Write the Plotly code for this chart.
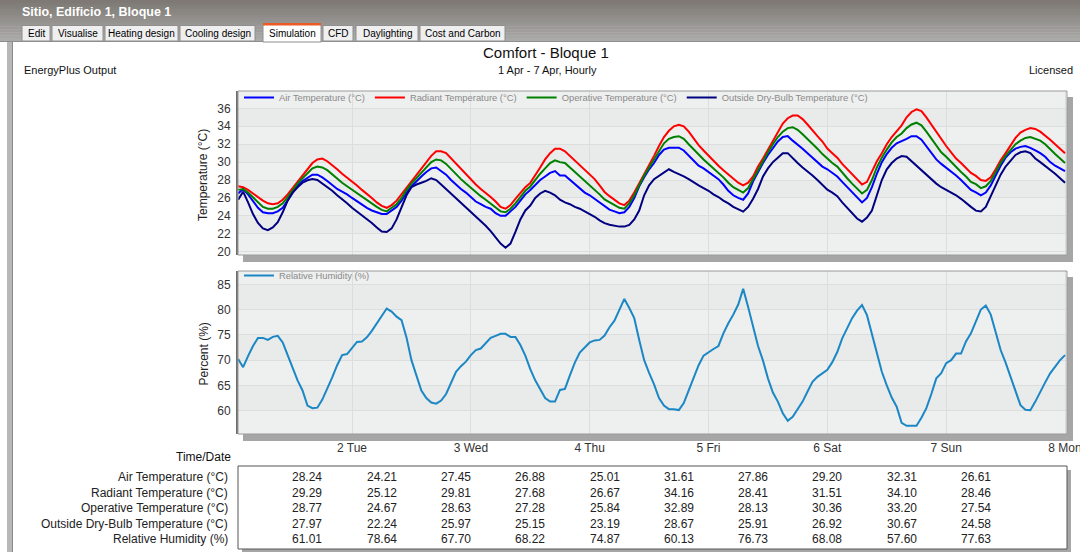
import pandas as pd
import plotly.graph_objects as go

# ============================ DATA ============================
START = pd.Timestamp("2024-04-01 00:00")          # 1 Apr ... 8 Apr (hourly)
HOURS = list(range(1, 169))

series_names = ["Air Temperature (°C)", "Radiant Temperature (°C)",
                "Operative Temperature (°C)", "Outside Dry-Bulb Temperature (°C)"]
rh_name = "Relative Humidity (%)"

air_temp = [
    26.5, 27.0, 26.4, 25.6, 24.9, 24.4, 24.3, 24.3, 24.5, 24.9, 25.7, 26.6,
    27.4, 27.9, 28.24, 28.6, 28.6, 28.3, 27.9, 27.4, 27.0, 26.7, 26.4, 26.0,
    25.6, 25.3, 24.9, 24.6, 24.4, 24.21, 24.2, 24.6, 25.0, 25.7, 26.6, 27.3,
    27.9, 28.4, 28.9, 29.3, 29.4, 29.0, 28.6, 28.0, 27.45, 27.0, 26.6, 26.1,
    25.6, 25.3, 25.0, 24.8, 24.3, 24.0, 24.0, 24.5, 25.0, 25.7, 26.4, 26.88,
    27.5, 28.0, 28.4, 28.8, 29.0, 28.5, 28.5, 28.0, 27.5, 27.0, 26.6, 26.3,
    25.9, 25.5, 25.01, 24.7, 24.5, 24.3, 24.4, 25.0, 26.0, 27.3, 28.3, 29.2,
    29.9, 30.8, 31.4, 31.6, 31.6, 31.61, 31.3, 30.7, 30.2, 29.6, 29.3, 28.9,
    28.5, 28.1, 27.5, 26.8, 26.3, 26.0, 25.8, 26.5, 27.86, 28.9, 29.9, 30.8,
    31.6, 32.3, 32.8, 32.9, 32.4, 32.0, 31.5, 31.0, 30.5, 29.9, 29.5, 29.20,
    28.8, 28.4, 27.8, 27.2, 26.7, 26.0, 25.5, 26.0, 27.2, 28.7, 30.0, 30.9,
    31.6, 32.1, 32.31, 32.6, 32.9, 32.9, 32.5, 31.8, 31.0, 30.3, 29.8, 29.4,
    28.9, 28.5, 28.0, 27.4, 26.9, 26.61, 26.3, 26.6, 27.4, 28.5, 29.6, 30.5,
    31.1, 31.5, 31.7, 31.8, 31.6, 31.3, 31.0, 30.6, 30.0, 29.6, 29.3, 29.0,
]
radiant_temp = [
    27.3, 27.2, 26.9, 26.5, 26.1, 25.7, 25.4, 25.3, 25.4, 25.8, 26.4, 27.1,
    27.8, 28.5, 29.29, 29.9, 30.3, 30.4, 30.1, 29.7, 29.2, 28.7, 28.3, 27.9,
    27.4, 26.9, 26.5, 26.0, 25.5, 25.12, 24.9, 25.2, 25.7, 26.4, 27.2, 27.9,
    28.6, 29.3, 30.0, 30.7, 31.2, 31.2, 31.0, 30.4, 29.81, 29.2, 28.6, 28.0,
    27.5, 27.0, 26.6, 26.1, 25.6, 25.0, 24.8, 25.2, 25.9, 26.6, 27.2, 27.68,
    28.5, 29.4, 30.3, 31.0, 31.5, 31.5, 31.2, 30.7, 30.2, 29.7, 29.2, 28.7,
    28.1, 27.4, 26.67, 26.2, 25.8, 25.4, 25.2, 25.7, 26.6, 27.6, 28.6, 29.6,
    30.7, 31.8, 32.8, 33.5, 34.0, 34.16, 34.0, 33.4, 32.6, 31.9, 31.3, 30.7,
    30.1, 29.6, 29.1, 28.6, 28.1, 27.7, 27.4, 27.7, 28.41, 29.5, 30.4, 31.4,
    32.4, 33.4, 34.3, 34.9, 35.2, 35.2, 34.8, 34.2, 33.5, 32.9, 32.3, 31.51,
    31.0, 30.5, 29.8, 29.2, 28.6, 28.0, 27.5, 27.8, 28.9, 30.1, 31.0, 32.0,
    32.8, 33.5, 34.10, 35.0, 35.6, 35.9, 35.7, 35.0, 34.2, 33.3, 32.5, 31.8,
    31.1, 30.4, 29.9, 29.3, 28.8, 28.46, 28.0, 27.9, 28.3, 29.2, 30.2, 31.0,
    31.8, 32.7, 33.3, 33.6, 33.8, 33.7, 33.4, 33.0, 32.5, 32.0, 31.5, 31.0,
]
operative_temp = [
    26.9, 27.0, 26.6, 26.1, 25.5, 25.0, 24.8, 24.8, 25.0, 25.4, 26.1, 26.9,
    27.6, 28.2, 28.77, 29.3, 29.5, 29.4, 29.1, 28.6, 28.1, 27.7, 27.3, 26.9,
    26.5, 26.1, 25.7, 25.3, 25.0, 24.67, 24.5, 24.9, 25.3, 26.0, 26.9, 27.6,
    28.2, 28.8, 29.4, 30.0, 30.3, 30.2, 29.8, 29.2, 28.63, 28.1, 27.6, 27.1,
    26.6, 26.2, 25.8, 25.4, 24.9, 24.5, 24.4, 24.8, 25.4, 26.1, 26.8, 27.28,
    28.0, 28.7, 29.3, 29.9, 30.2, 30.0, 29.9, 29.4, 28.9, 28.4, 27.9, 27.5,
    27.0, 26.4, 25.84, 25.5, 25.2, 24.9, 24.8, 25.4, 26.3, 27.5, 28.5, 29.4,
    30.3, 31.3, 32.1, 32.6, 32.8, 32.89, 32.6, 32.0, 31.4, 30.8, 30.3, 29.8,
    29.3, 28.9, 28.3, 27.7, 27.2, 26.9, 26.6, 27.1, 28.13, 29.2, 30.2, 31.1,
    32.0, 32.8, 33.4, 33.8, 33.9, 33.6, 33.1, 32.6, 32.0, 31.5, 30.9, 30.36,
    29.9, 29.5, 28.8, 28.2, 27.6, 27.0, 26.5, 26.9, 28.0, 29.4, 30.5, 31.4,
    32.2, 32.8, 33.20, 33.8, 34.2, 34.4, 34.1, 33.4, 32.6, 31.8, 31.1, 30.6,
    30.0, 29.4, 28.9, 28.4, 27.8, 27.54, 27.1, 27.3, 27.9, 28.9, 29.9, 30.7,
    31.4, 32.0, 32.4, 32.7, 32.8, 32.6, 32.4, 32.0, 31.4, 30.9, 30.4, 29.9,
]
outside_temp = [
    25.8, 26.7, 25.5, 24.2, 23.2, 22.6, 22.4, 22.7, 23.3, 24.4, 25.7, 26.6,
    27.2, 27.7, 27.97, 28.1, 28.0, 27.6, 27.3, 26.8, 26.3, 25.9, 25.4, 24.9,
    24.5, 24.0, 23.6, 23.2, 22.7, 22.24, 22.2, 22.6, 23.6, 25.0, 26.3, 27.2,
    27.5, 27.7, 27.9, 28.2, 28.0, 27.5, 27.0, 26.5, 25.97, 25.5, 25.0, 24.5,
    24.0, 23.5, 22.9, 22.3, 21.6, 20.9, 20.45, 20.9, 22.2, 23.6, 24.6, 25.15,
    26.0, 26.5, 26.8, 26.6, 26.3, 25.8, 25.5, 25.3, 25.0, 24.8, 24.5, 24.2,
    23.9, 23.5, 23.19, 23.0, 22.9, 22.8, 22.8, 23.0, 23.6, 24.6, 26.3, 27.4,
    28.1, 28.5, 28.9, 29.2, 28.9, 28.67, 28.4, 28.1, 27.7, 27.4, 27.1, 26.8,
    26.4, 26.1, 25.7, 25.4, 25.0, 24.7, 24.47, 25.0, 25.91, 27.0, 28.4, 29.3,
    30.0, 30.5, 31.0, 31.0, 30.4, 29.9, 29.4, 29.0, 28.5, 28.0, 27.4, 26.92,
    26.6, 26.2, 25.5, 24.9, 24.3, 23.7, 23.35, 23.8, 24.6, 26.4, 28.0, 29.2,
    29.9, 30.4, 30.67, 30.6, 30.1, 29.5, 29.0, 28.6, 28.1, 27.6, 27.2, 26.9,
    26.6, 26.3, 25.9, 25.5, 25.0, 24.58, 24.5, 25.0, 26.2, 27.5, 28.6, 29.5,
    30.2, 30.8, 31.1, 31.2, 31.0, 30.4, 30.0, 29.6, 29.1, 28.7, 28.2, 27.7,
]
rel_humidity = [
    70.2, 68.6, 70.8, 72.8, 74.4, 74.4, 74.0, 74.6, 74.8, 73.5, 71.0, 68.5,
    66.0, 64.0, 61.01, 60.5, 60.6, 62.2, 64.3, 66.6, 69.0, 71.0, 71.2, 72.3,
    73.6, 73.7, 74.5, 75.8, 77.3, 78.64, 80.2, 79.6, 78.6, 77.9, 74.5, 70.0,
    66.8, 64.0, 62.5, 61.6, 61.4, 62.0, 63.3, 65.5, 67.70, 68.8, 69.7, 71.0,
    72.0, 72.3, 73.3, 74.4, 74.8, 75.2, 75.2, 74.6, 74.6, 73.0, 70.9, 68.22,
    66.0, 64.3, 62.5, 61.8, 61.8, 64.1, 64.3, 67.0, 69.5, 71.5, 72.5, 73.5,
    73.9, 74.0, 74.87, 76.5, 77.8, 80.0, 82.1, 80.3, 78.3, 74.0, 70.0, 67.5,
    65.2, 62.5, 61.0, 60.3, 60.3, 60.13, 61.5, 64.0, 66.6, 69.0, 70.9, 71.6,
    72.2, 72.8, 75.3, 77.3, 79.0, 81.0, 84.1, 80.5, 76.73, 72.8, 69.9, 66.4,
    63.6, 61.8, 59.5, 58.0, 58.8, 60.4, 61.8, 63.8, 65.7, 66.7, 67.4, 68.08,
    69.6, 71.6, 74.3, 76.2, 78.3, 79.8, 80.9, 78.9, 75.0, 71.2, 67.7, 65.0,
    62.6, 60.8, 57.60, 57.0, 57.0, 57.0, 58.6, 60.5, 63.3, 66.4, 67.4, 69.4,
    70.0, 71.3, 71.3, 73.7, 75.3, 77.63, 80.0, 80.8, 79.0, 75.5, 72.0, 69.5,
    66.7, 63.8, 61.1, 60.2, 60.1, 61.8, 63.8, 65.6, 67.4, 68.7, 70.0, 71.0,
]

# summary table (values every 15 hours)
table_hours = [15, 30, 45, 60, 75, 90, 105, 120, 135, 150]
table_air = [28.24, 24.21, 27.45, 26.88, 25.01, 31.61, 27.86, 29.20, 32.31, 26.61]
table_radiant = [29.29, 25.12, 29.81, 27.68, 26.67, 34.16, 28.41, 31.51, 34.10, 28.46]
table_operative = [28.77, 24.67, 28.63, 27.28, 25.84, 32.89, 28.13, 30.36, 33.20, 27.54]
table_outside = [27.97, 22.24, 25.97, 25.15, 23.19, 28.67, 25.91, 26.92, 30.67, 24.58]
table_rh = [61.01, 78.64, 67.70, 68.22, 74.87, 60.13, 76.73, 68.08, 57.60, 77.63]

temp_ticks = list(range(20, 37, 2))
rh_ticks = list(range(60, 86, 5))

tab_labels = ["Edit", "Visualise", "Heating design", "Cooling design",
              "Simulation", "CFD", "Daylighting", "Cost and Carbon"]
selected_tab = "Simulation"

# ============================ STYLE / GEOMETRY ============================
W, H = 1080, 552
FONT = "Liberation Sans, Arial, sans-serif"
PX_L, PX_R = 238, 1067
TOP_T, TOP_B = 91, 255
BOT_T, BOT_B = 271, 434
TEMP_RANGE = [19.63, 37.94]
RH_RANGE = [55.39, 87.63]
COLORS = ["#0000FF", "#FF0000", "#008000", "#000080"]
RH_COLOR = "#1B87C5"
PLOT_BG = "#EEEFEF"
BAND_BG = "#E9EAEA"
GRID = "#DCDDDD"
TAB_X = [(22, 50), (52, 103), (105, 178), (180, 255), (263, 321),
         (323, 353), (356, 418), (420, 505)]
TABLE_T, TABLE_B = 466, 549
TABLE_ROW_Y = [477, 492.5, 508, 523.5, 539]


def fx(px):
    return px / W


def fy(py):
    return 1 - py / H


def hours_to_time(h):
    return START + pd.Timedelta(hours=h)


rh_times = [hours_to_time(h) for h in HOURS[:len(rel_humidity)]]
x_range = [hours_to_time(HOURS[0] - 0.03), hours_to_time(HOURS[-1] + 0.4)]

fig = go.Figure()
for name, vals, col in zip(series_names,
                           [air_temp, radiant_temp, operative_temp, outside_temp],
                           COLORS):
    fig.add_trace(go.Scatter(
        x=[hours_to_time(h) for h in HOURS[:len(vals)]], y=vals, name=name,
        mode="lines", line=dict(color=col, width=2),
        xaxis="x", yaxis="y", legend="legend", hoverinfo="skip"))
fig.add_trace(go.Scatter(
    x=rh_times, y=rel_humidity, name=rh_name, mode="lines",
    line=dict(color=RH_COLOR, width=2),
    xaxis="x2", yaxis="y2", legend="legend2", hoverinfo="skip"))

shapes = []
annotations = []


def rect(x0, y0, x1, y1, fill, line_color=None, lw=0, layer="below"):
    shapes.append(dict(type="rect", xref="paper", yref="paper",
                       x0=fx(x0), x1=fx(x1), y0=fy(y1), y1=fy(y0),
                       fillcolor=fill, layer=layer,
                       line=dict(color=line_color or fill, width=lw)))


def text(t, x, y, size=12, color="#222222", xanchor="center", bold=False,
         xref="paper", angle=0, family=FONT):
    annotations.append(dict(
        text=t, x=fx(x) if xref == "paper" else x, y=fy(y), xref=xref, yref="paper",
        xanchor=xanchor, yanchor="middle", showarrow=False, textangle=angle,
        font=dict(size=size, color=color, family=family,
                  weight="bold" if bold else "normal")))


# ---- window chrome: title bar gradient + tabs
n_stripes = 14
c_top, c_bot = (126, 121, 116), (170, 170, 168)
for i in range(n_stripes):
    f = i / (n_stripes - 1)
    c = tuple(int(a + (b - a) * f) for a, b in zip(c_top, c_bot))
    rect(0, 41 * i / n_stripes, W, 41 * (i + 1) / n_stripes + 0.5,
         "rgb(%d,%d,%d)" % c)
rect(0, 41, W, 42, "#8E8E8E")
rect(7, 42, 13, H, "#B8B8B8")
rect(12, 42, 13, H, "#8A8A8A")
text("Sitio, Edificio 1, Bloque 1", 20, 12, size=12.5, color="#FFFFFF",
     xanchor="left", bold=True)
for lab, (x0, x1) in zip(tab_labels, TAB_X):
    if lab == selected_tab:
        rect(x0, 24, x1, 42, "#FFFFFF", "#8E8E8E", 1, layer="above")
        rect(x0, 23, x1, 25.5, "#EE5A24", layer="above")
    else:
        rect(x0, 25.5, x1, 41, "#EFEFEF", "#8E8E8E", 1, layer="above")
    text(lab, (x0 + x1) / 2, 33.5, size=10, color="#000000")

# ---- headings
text("Comfort - Bloque 1", 546, 53, size=15, color="#111111")
text("1 Apr - 7 Apr, Hourly", 547, 70, size=11, color="#111111")
text("EnergyPlus Output", 22, 70, size=11, color="#111111", xanchor="left")
text("Licensed", 1075, 70, size=11, color="#111111", xanchor="right")

# ---- plot panels: shadow, background, bands, frame
for (t, b), xd, yd, yr, ticks in [((TOP_T, TOP_B), "x", "y", "y", temp_ticks),
                                  ((BOT_T, BOT_B), "x2", "y2", "y2", rh_ticks)]:
    rect(PX_L + 5, t + 6, PX_R + 6, b + 7, "#A6A6A6")
    rect(PX_L, t, PX_R, b, PLOT_BG)
    for k in range(len(ticks) - 1, 0, -2):
        shapes.append(dict(type="rect", xref=xd + " domain", yref=yr,
                           x0=0, x1=1, y0=ticks[k - 1], y1=ticks[k],
                           fillcolor=BAND_BG, line=dict(width=0), layer="below"))
    shapes.append(dict(type="rect", xref=xd + " domain", yref=yd + " domain",
                       x0=0, x1=1, y0=0, y1=1, fillcolor="rgba(0,0,0,0)",
                       line=dict(color="#9A9A9A", width=1), layer="above"))

text("Temperature (°C)", 203, (TOP_T + TOP_B) / 2 + 2, size=12, angle=-90)
text("Percent (%)", 203, (BOT_T + BOT_B) / 2 + 2, size=12, angle=-90)

# ---- summary table
text("Time/Date", 233, 457, size=12, color="#111111", xanchor="right")
rect(PX_L + 4, TABLE_T + 4, PX_R + 4, TABLE_B + 4, "#A6A6A6")
rect(PX_L, TABLE_T, PX_R, TABLE_B, "#FFFFFF", "#555555", 1)
row_labels = series_names + [rh_name]
row_values = [table_air, table_radiant, table_operative, table_outside, table_rh]
for lab, vals, y in zip(row_labels, row_values, TABLE_ROW_Y):
    text(lab, PX_L - 8, y, size=12, color="#222222", xanchor="right")
    for h, v in zip(table_hours, vals):
        text("%.2f" % v, hours_to_time(h), y, size=12, color="#222222",
             xref="x2")

axis_font = dict(size=12, color="#333333", family=FONT)
common_x = dict(type="date", range=x_range, domain=[fx(PX_L), fx(PX_R)],
                showgrid=True, gridcolor=GRID, gridwidth=1, zeroline=False,
                tick0=START, dtick=86400000, ticks="", showline=False,
                automargin=False)
common_y = dict(showgrid=True, gridcolor=GRID, gridwidth=1, zeroline=False,
                showline=True, linecolor="#6E6E6E", linewidth=2, ticks="",
                tickfont=axis_font, ticklabelstandoff=3, automargin=False)

legend_common = dict(orientation="h", xanchor="left", yanchor="top",
                     bgcolor="rgba(0,0,0,0)", borderwidth=0,
                     font=dict(size=9.4, color="#8A8A8A", family=FONT),
                     itemwidth=30, itemclick=False, itemdoubleclick=False)

fig.update_layout(
    width=W, height=H, margin=dict(l=0, r=0, t=0, b=0, autoexpand=False),
    paper_bgcolor="#FFFFFF", plot_bgcolor="rgba(0,0,0,0)",
    font=dict(family=FONT, color="#222222"),
    showlegend=True,
    xaxis=dict(common_x, anchor="y", showticklabels=False),
    xaxis2=dict(common_x, anchor="y2", matches="x", showticklabels=True,
                tickformat="%-d %a", tickfont=axis_font,
                ticklabeloverflow="allow", ticklabelstandoff=5),
    yaxis=dict(common_y, domain=[fy(TOP_B), fy(TOP_T)], range=TEMP_RANGE,
               tickvals=temp_ticks),
    yaxis2=dict(common_y, domain=[fy(BOT_B), fy(BOT_T)], range=RH_RANGE,
                tickvals=rh_ticks),
    legend=dict(legend_common, x=fx(PX_L + 1), y=fy(TOP_T - 8)),
    legend2=dict(legend_common, x=fx(PX_L + 1), y=fy(BOT_T - 10)),
    shapes=shapes, annotations=annotations,
    hovermode=False,
)

fig.write_html(
    "out.html",
    config={"displayModeBar": False},
    post_script="document.body.style.margin='0';"
                "document.body.style.padding='0';"
                "document.documentElement.style.overflow='hidden';",
)
